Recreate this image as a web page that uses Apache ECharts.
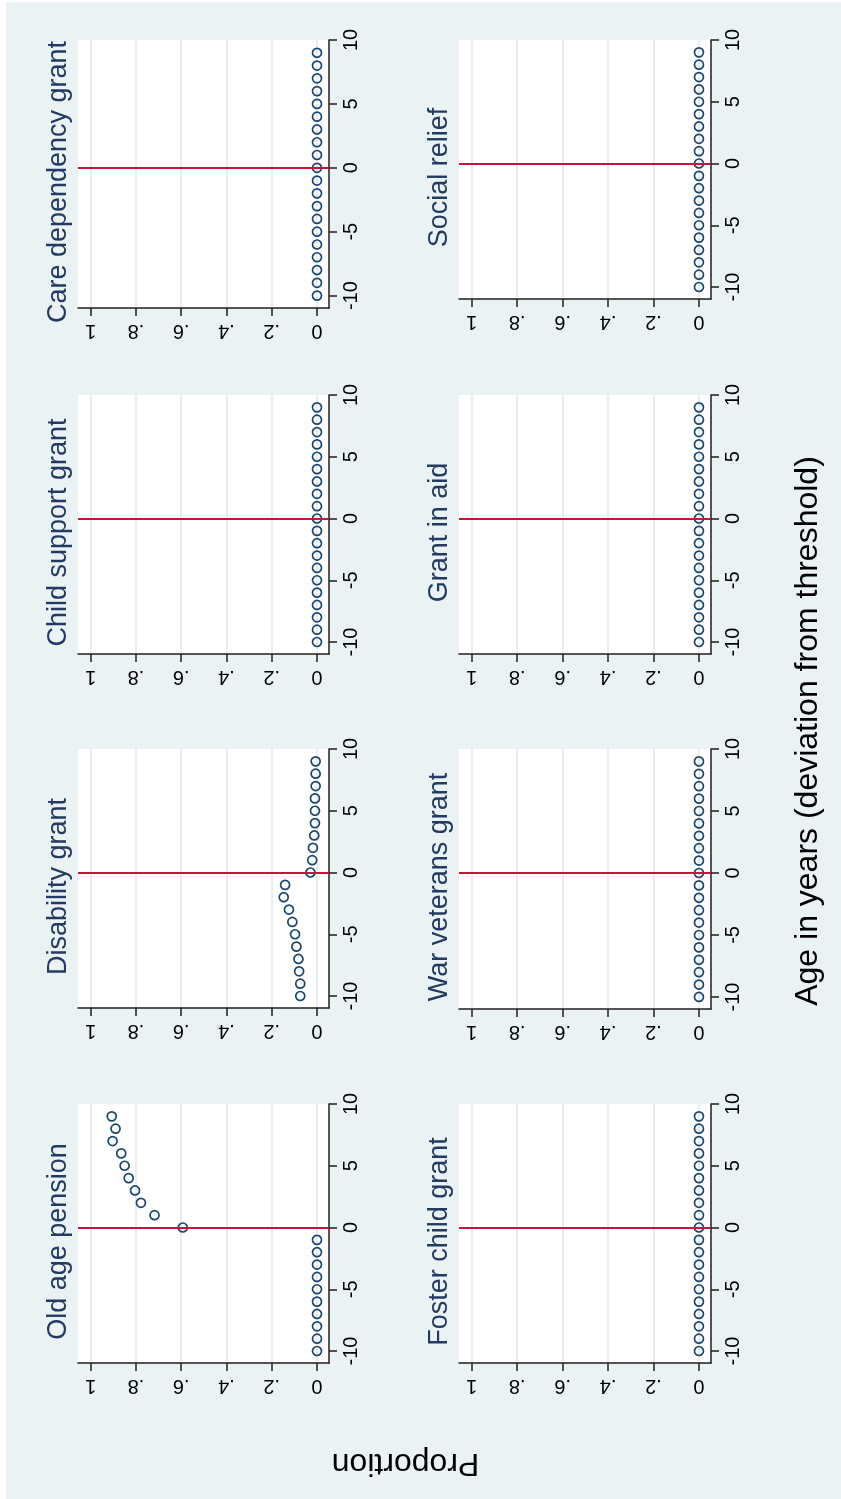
<!DOCTYPE html>
<html>
<head>
<meta charset="utf-8">
<title>Grant receipt by age relative to eligibility threshold</title>
<script src="https://cdn.jsdelivr.net/npm/echarts@6/dist/echarts.min.js"></script>
<style>
  html, body { margin: 0; padding: 0; background: #ffffff; }
  #page { position: relative; width: 841px; height: 1499px; overflow: hidden; }
  #backdrop { position: absolute; left: 6px; top: 2px; width: 835px; height: 1497px; background: #eaf2f3; }
  #chart { position: absolute; left: 0; top: 0; width: 841px; height: 1499px; }
</style>
</head>
<body>
<div id="page">
  <div id="backdrop"></div>
  <div id="chart"></div>
</div>
<script>
// Age relative to the eligibility threshold (years)
const ages = [-10, -9, -8, -7, -6, -5, -4, -3, -2, -1, 0, 1, 2, 3, 4, 5, 6, 7, 8, 9];

// Proportion receiving each grant, one value per age above
const oldAgePension     = [0, 0, 0, 0, 0, 0, 0, 0, 0, 0, 0.593, 0.718, 0.778, 0.804, 0.832, 0.850, 0.865, 0.903, 0.890, 0.907];
const disabilityGrant   = [0.074, 0.074, 0.079, 0.082, 0.091, 0.097, 0.109, 0.124, 0.147, 0.141, 0.029, 0.021, 0.018, 0.012, 0.009, 0.009, 0.009, 0.006, 0.006, 0.006];
const childSupportGrant = [0, 0, 0, 0, 0, 0, 0, 0, 0, 0, 0, 0, 0, 0, 0, 0, 0, 0, 0, 0];
const careDependency    = [0, 0, 0, 0, 0, 0, 0, 0, 0, 0, 0, 0, 0, 0, 0, 0, 0, 0, 0, 0];
const fosterChildGrant  = [0, 0, 0, 0, 0, 0, 0, 0, 0, 0, 0, 0, 0, 0, 0, 0, 0, 0, 0, 0];
const warVeteransGrant  = [0, 0, 0, 0, 0, 0, 0, 0, 0, 0, 0, 0, 0, 0, 0, 0, 0, 0, 0, 0];
const grantInAid        = [0, 0, 0, 0, 0, 0, 0, 0, 0, 0, 0, 0, 0, 0, 0, 0, 0, 0, 0, 0];
const socialRelief      = [0, 0, 0, 0, 0, 0, 0, 0, 0, 0, 0, 0, 0, 0, 0, 0, 0, 0, 0, 0];

// Axis ticks and their labels
const ageTicks = [-10, -5, 0, 5, 10];
const proportionTicks = [0, 0.2, 0.4, 0.6, 0.8, 1];
const proportionTickLabels = ['0', '.2', '.4', '.6', '.8', '1'];

// Eligibility threshold
const thresholdAge = 0;

// Panel placement (the figure is laid out turned on its side)
const panels = [
  { name: 'Old age pension',       values: oldAgePension,     left: 78,  top: 1104, width: 251, height: 259 },
  { name: 'Disability grant',      values: disabilityGrant,   left: 78,  top: 749,  width: 251, height: 259 },
  { name: 'Child support grant',   values: childSupportGrant, left: 78,  top: 395,  width: 251, height: 259 },
  { name: 'Care dependency grant', values: careDependency,    left: 78,  top: 40,   width: 251, height: 268 },
  { name: 'Foster child grant',    values: fosterChildGrant,  left: 459, top: 1104, width: 252, height: 259 },
  { name: 'War veterans grant',    values: warVeteransGrant,  left: 459, top: 749,  width: 252, height: 260 },
  { name: 'Grant in aid',          values: grantInAid,        left: 459, top: 395,  width: 252, height: 259 },
  { name: 'Social relief',         values: socialRelief,      left: 459, top: 40,   width: 252, height: 259 }
];

const FONT = '"Liberation Sans", Arial, Helvetica, sans-serif';
const AXIS_COLOR = '#1f1f1f';
const MARKER_COLOR = '#1a476f';
const TITLE_COLOR = '#233a63';
const THRESHOLD_COLOR = '#c8143a';
const GRID_COLOR = '#e1e9ed';

function proportionLabel(v) {
  const i = proportionTicks.findIndex(t => Math.abs(t - v) < 1e-9);
  return i >= 0 ? proportionTickLabels[i] : '';
}

const chart = echarts.init(document.getElementById('chart'), null, { renderer: 'canvas' });

const option = {
  backgroundColor: 'transparent',
  animation: false,
  grid: panels.map(p => ({
    left: p.left, top: p.top, width: p.width, height: p.height,
    show: true, backgroundColor: '#ffffff', borderWidth: 0,
    outerBoundsMode: 'none'
  })),
  // Proportion runs right-to-left along the horizontal axis
  xAxis: panels.map((p, i) => ({
    type: 'value', gridIndex: i, inverse: true, position: 'bottom',
    min: -0.053, max: 1.056,
    axisLine: { show: true, onZero: false, lineStyle: { color: AXIS_COLOR, width: 1.5 } },
    axisTick: { show: true, length: 8, customValues: proportionTicks, lineStyle: { color: AXIS_COLOR, width: 1.5 } },
    axisLabel: {
      show: true, rotate: 180, margin: 13, customValues: proportionTicks,
      formatter: proportionLabel, fontSize: 20, fontFamily: FONT, color: '#000'
    },
    splitLine: { show: true, lineStyle: { color: GRID_COLOR, width: 1.5 } }
  })),
  // Age runs bottom-to-top along the vertical axis on the right
  yAxis: panels.map((p, i) => ({
    type: 'value', gridIndex: i, position: 'right',
    min: -10.97, max: 10,
    axisLine: { show: true, onZero: false, lineStyle: { color: AXIS_COLOR, width: 1.5 } },
    axisTick: { show: true, length: 8, customValues: ageTicks, lineStyle: { color: AXIS_COLOR, width: 1.5 } },
    axisLabel: {
      show: true, rotate: 90, margin: 12, customValues: ageTicks,
      fontSize: 20, fontFamily: FONT, color: '#000'
    },
    splitLine: { show: false }
  })),
  series: panels.map((p, i) => ({
    type: 'scatter', name: p.name, xAxisIndex: i, yAxisIndex: i,
    data: ages.map((a, k) => [p.values[k], a]),
    symbol: 'circle', symbolSize: 9,
    itemStyle: { color: 'rgba(255,255,255,0)', borderColor: MARKER_COLOR, borderWidth: 1.7, opacity: 1 },
    silent: true,
    markLine: {
      silent: true, symbol: ['none', 'none'], animation: false,
      label: { show: false },
      lineStyle: { color: THRESHOLD_COLOR, width: 2, type: 'solid' },
      data: [{ yAxis: thresholdAge }]
    }
  })),
  graphic: {
    elements: [
      ...panels.map(p => ({
        type: 'text',
        x: p.left - 19, y: p.top + p.height / 2 + 8,
        rotation: Math.PI / 2,
        silent: true,
        style: {
          text: p.name, fill: TITLE_COLOR,
          fontSize: 27, fontFamily: FONT,
          align: 'center', verticalAlign: 'middle'
        }
      })),
      {
        type: 'text', x: 808, y: 731, rotation: Math.PI / 2, silent: true,
        style: {
          text: 'Age in years (deviation from threshold)', fill: '#000',
          fontSize: 32, fontFamily: FONT, align: 'center', verticalAlign: 'middle'
        }
      },
      {
        type: 'text', x: 405.5, y: 1462.5, rotation: Math.PI, silent: true,
        style: {
          text: 'Proportion', fill: '#000',
          fontSize: 32, fontFamily: FONT, align: 'center', verticalAlign: 'middle'
        }
      }
    ]
  }
};

chart.setOption(option);
</script>
</body>
</html>
